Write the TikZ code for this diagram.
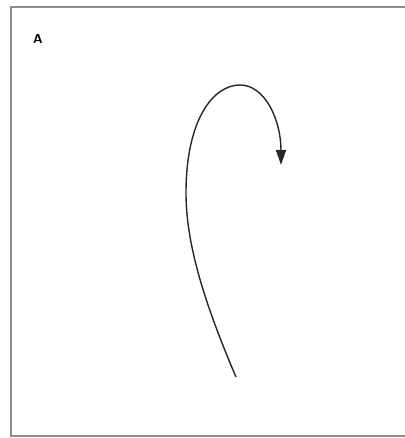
\documentclass[tikz,border=0pt]{standalone}
\usetikzlibrary{arrows.meta}
\begin{document}
\begin{tikzpicture}[x=1pt,y=1pt,
  frame/.style={draw=black!45,line width=2pt},
  curvearrow/.style={draw=black!85,line width=1.4pt,-{Triangle[length=15pt,width=10pt]}},
  lbl/.style={font=\sffamily\bfseries\fontsize{13}{14}\selectfont,inner sep=0pt}]
\useasboundingbox (0,0) rectangle (404,438);
\draw[frame] (11,2) rectangle (430,431);
\node[lbl] (A) at (38,399) {A};
\coordinate (s) at (236,61);
\coordinate (l) at (186,245);
\coordinate (t) at (240,353);
\coordinate (e) at (281,273);
\draw[curvearrow] (s) .. controls (200,145) and (186,200) .. (l)
  .. controls (186,318) and (213,353) .. (t)
  .. controls (265,353) and (281,318) .. (e);
\end{tikzpicture}
\end{document}
